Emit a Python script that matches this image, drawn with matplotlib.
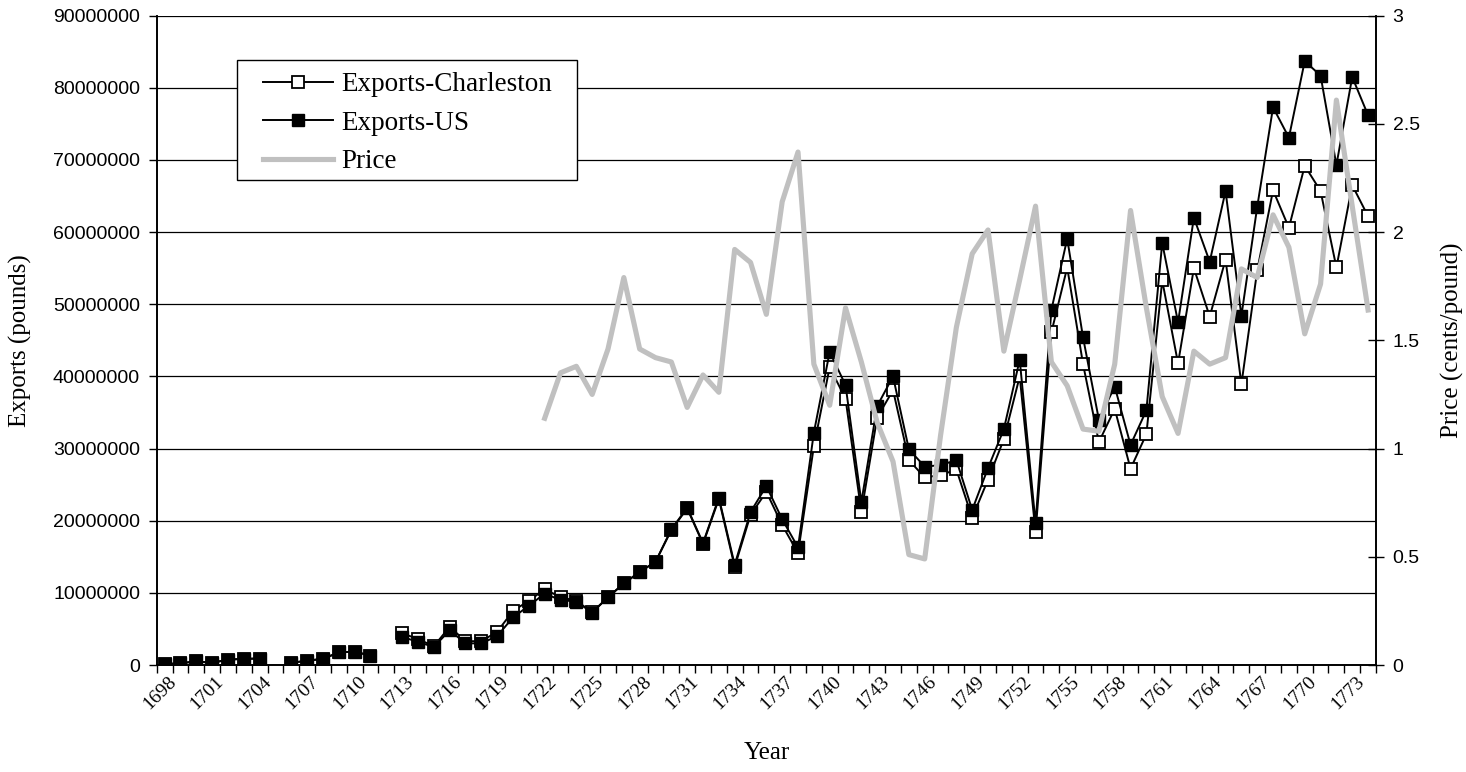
import numpy as np
import matplotlib
matplotlib.use('Agg')
import matplotlib.pyplot as plt
from matplotlib.patches import Rectangle
from matplotlib.transforms import ScaledTranslation

nan = np.nan

# anos 1698-1774 (categorias)
anios = list(range(1698, 1775))

# exportaciones en millones de libras
exports_us = [0.12, 0.25, 0.5, 0.3, 0.75, 0.85, 0.9, nan, 0.3, 0.6,
              0.85, 1.75, 1.85, 1.3, nan, 3.9, 3.2, 2.5, 4.8, 3.0,
              3.0, 4.0, 6.6, 8.2, 9.9, 9.0, 8.8, 7.25, 9.4, 11.3,
              12.9, 14.3, 18.8, 21.8, 16.9, 23.2, 13.9, 21.2, 24.8, 20.2,
              16.3, 32.2, 43.4, 38.8, 22.6, 35.9, 40.0, 29.9, 27.5, 27.7,
              28.4, 21.5, 27.3, 32.7, 42.3, 19.7, 49.2, 59.1, 45.4, 34.0,
              38.6, 30.5, 35.3, 58.5, 47.5, 62.0, 55.9, 65.7, 48.4, 63.5,
              77.3, 73.1, 83.7, 81.7, 69.3, 81.5, 76.2]

exports_charleston = [0.12, 0.25, 0.5, 0.3, 0.75, 0.85, 0.9, nan, 0.3, 0.6,
                      0.85, 1.75, 1.85, 1.3, nan, 4.4, 3.6, 2.6, 5.3, 3.3,
                      3.3, 4.6, 7.5, 8.9, 10.5, 9.4, 8.9, 7.3, 9.4, 11.3,
                      12.9, 14.3, 18.7, 21.7, 16.8, 23.0, 13.6, 20.8, 24.0, 19.4,
                      15.5, 30.3, 41.3, 36.9, 21.2, 34.3, 38.1, 28.4, 26.0, 26.3,
                      27.1, 20.4, 25.7, 31.3, 40.0, 18.4, 46.1, 55.1, 41.7, 30.9,
                      35.5, 27.2, 32.0, 53.3, 41.8, 55.0, 48.3, 56.2, 38.9, 54.7,
                      65.8, 60.6, 69.2, 65.7, 55.1, 66.5, 62.2]

# precio en centavos por libra (desde 1722)
precio = [nan] * 24 + [1.14, 1.35, 1.38, 1.25, 1.46, 1.79, 1.46, 1.42, 1.40, 1.19,
                       1.34, 1.26, 1.92, 1.86, 1.62, 2.14, 2.37, 1.39, 1.20, 1.65,
                       1.40, 1.12, 0.94, 0.51, 0.49, 1.06, 1.56, 1.90, 2.01, 1.45,
                       1.78, 2.12, 1.40, 1.29, 1.09, 1.08, 1.39, 2.10, 1.65, 1.24,
                       1.07, 1.45, 1.39, 1.42, 1.83, 1.79, 2.08, 1.93, 1.53, 1.76,
                       2.61, 2.12, 1.64]

ticks_izq = list(range(0, 90000001, 10000000))
ticks_der = [0, 0.5, 1, 1.5, 2, 2.5, 3]
anios_etiqueta = list(range(1698, 1775, 3))

serif = 'Liberation Serif'
sans = 'Liberation Sans'

fig = plt.figure(figsize=(14.66, 7.72), dpi=100)
ax = fig.add_axes([0.1069, 0.1386, 0.8317, 0.8411])
ax2 = ax.twinx()

ax.plot(anios, np.array(exports_charleston) * 1e6, color='black', linewidth=1.4,
        marker='s', markersize=8, markerfacecolor='white', markeredgecolor='black',
        markeredgewidth=1.3, label='Exports-Charleston', zorder=3)
ax.plot(anios, np.array(exports_us) * 1e6, color='black', linewidth=1.4,
        marker='s', markersize=8, markerfacecolor='black', markeredgecolor='black',
        label='Exports-US', zorder=4)
ax2.plot(anios, precio, color='#c0c0c0', linewidth=3.7, label='Price', zorder=5)

ax.set_xlim(1697.5, 1774.5)
ax.set_ylim(0, 90000000)
ax2.set_ylim(0, 3)

ax.set_yticks(ticks_izq)
ax.set_yticklabels([str(t) for t in ticks_izq], fontsize=14, fontfamily=sans)
ax2.set_yticks(ticks_der)
ax2.set_yticklabels(['%g' % t for t in ticks_der], fontsize=14, fontfamily=sans)

ax.set_xticks(anios_etiqueta)
ax.set_xticklabels([str(a) for a in anios_etiqueta], fontsize=14, fontfamily=serif,
                   rotation=45, ha='right', va='top', rotation_mode='anchor')
ax.set_xticks(np.arange(1697.5, 1775, 1), minor=True)
ax.tick_params(axis='x', which='major', length=0, pad=6)
ax.tick_params(axis='x', which='minor', length=6, width=1, direction='out')
ax.tick_params(axis='y', length=6, width=1, direction='out', pad=6)
ax2.tick_params(axis='y', length=12, width=1, direction='inout', pad=6)
desplaza = ScaledTranslation(3 / 100, 0, fig.dpi_scale_trans)
for lab in ax.get_xticklabels():
    lab.set_transform(lab.get_transform() + desplaza)

ax.grid(True, axis='y', color='black', linewidth=0.9)
ax.set_axisbelow(True)
for a in (ax, ax2):
    a.spines['top'].set_visible(False)
    for s in ('left', 'right', 'bottom'):
        a.spines[s].set_linewidth(1.2)

ax.set_xlabel('Year', fontsize=18, fontfamily=serif)
ax.set_ylabel('Exports (pounds)', fontsize=18, fontfamily=serif)
ax2.set_ylabel('Price (cents/pound)', fontsize=18, fontfamily=serif)
ax.xaxis.set_label_coords(0.5, -0.1186)
ax.yaxis.set_label_coords(-0.1025, 0.5)
ax2.yaxis.set_label_coords(1.053, 0.5)

# leyenda sin marco, el marco se dibuja aparte
h1, l1 = ax.get_legend_handles_labels()
h2, l2 = ax2.get_legend_handles_labels()
leg = fig.legend(h1 + h2, l1 + l2, loc='upper left', bbox_to_anchor=(263 / 1466, 1 - 72 / 772),
                 prop={'family': serif, 'size': 19.5}, frameon=False,
                 handlelength=2.6, handletextpad=0.3, labelspacing=0.5,
                 borderpad=0, borderaxespad=0)
caja = Rectangle((237 / 1466, 1 - 180 / 772), 340 / 1466, 120 / 772,
                 transform=fig.transFigure, facecolor='white', edgecolor='black',
                 linewidth=1.0)
fig.patches.append(caja)
caja.set_zorder(10)
leg.set_zorder(11)

plt.savefig('out.png', dpi=100)
plt.close()
